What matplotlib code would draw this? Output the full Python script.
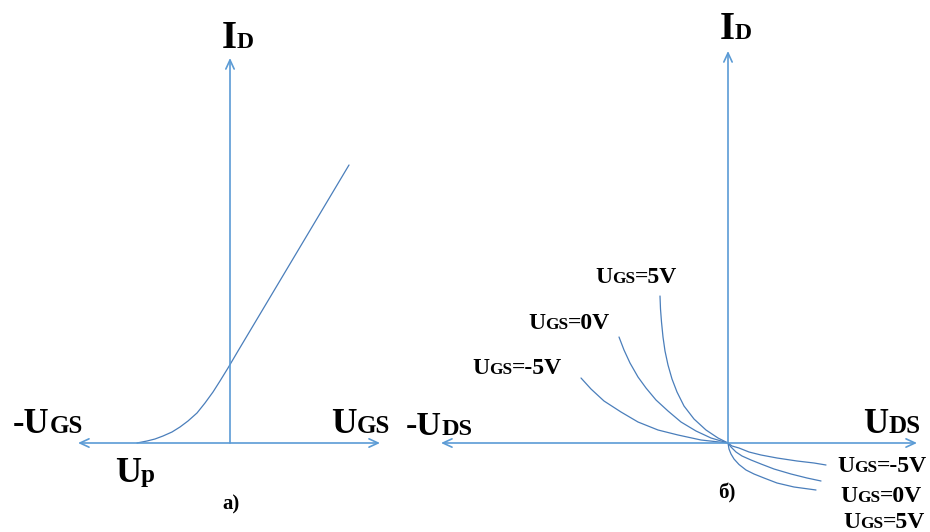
import matplotlib
matplotlib.use("Agg")
import matplotlib.pyplot as plt

# Transfer characteristic I_D(U_GS), points relative to the axis origin
ugs_x = [-93, -83, -75, -67, -58, -50, -42, -33, -25, -17, -10, -2, 8, 119]
ugs_y = [0, 2, 4, 7, 11, 16, 22, 30, 40, 51, 62, 75, 92, 278]

# Output characteristics I_D(U_DS) for three gate voltages
gate_labels = ["5V", "0V", "-5V"]
neg_x = {"5V": [-68, -67.5, -66.5, -65, -63, -60, -56, -51, -44, -34, -22, -10, 0],
         "0V": [-109, -104, -98, -90, -82, -72, -60, -47, -32, -17, 0],
         "-5V": [-147, -137, -124, -107, -90, -70, -50, -27, 0]}
neg_y = {"5V": [147, 134, 121, 106, 92, 78, 64, 51, 37, 24, 13, 5, 0],
         "0V": [106, 93, 80, 66, 55, 43, 32, 21, 12, 5, 0],
         "-5V": [65, 54, 42, 31, 21, 13, 8, 3, 0]}
pos_x = {"5V": [0, 1, 3, 6, 11, 18, 26, 36, 49, 66, 88],
         "0V": [0, 3, 8, 14, 23, 33, 46, 63, 79, 93],
         "-5V": [0, 4, 11, 21, 33, 49, 69, 86, 98]}
pos_y = {"5V": [0, -6, -11, -16, -21.5, -27, -31, -35, -40, -44, -47],
         "0V": [0, -4, -9, -13, -17, -21, -26, -31, -35, -38],
         "-5V": [0, -3, -5, -9, -12, -15, -18, -20, -22]}

AXIS_C = "#5b9bd5"
CURVE_C = "#4a7ebb"
FONT = "Liberation Serif"

fig = plt.figure(figsize=(9.3, 5.32), dpi=100)
ax = fig.add_axes([0, 0, 1, 1])
ax.set_xlim(0, 930)
ax.set_ylim(0, 532)
ax.axis("off")
renderer = fig.canvas.get_renderer()


def arrow(x0, y0, x1, y1, style="->"):
    ax.annotate("", xy=(x1, y1), xytext=(x0, y0),
                arrowprops=dict(arrowstyle=style + ",head_length=0.65,head_width=0.3",
                                color=AXIS_C, lw=1.2, shrinkA=0, shrinkB=0))


def curve(xs, ys, ox, oy):
    ax.plot([ox + v for v in xs], [oy + v for v in ys], color=CURVE_C, lw=0.9,
            solid_joinstyle="round", solid_capstyle="round")


def label(x, y, parts):
    # parts: (text, size) pieces placed one after another on a shared baseline
    inv = ax.transData.inverted()
    for s, size in parts:
        t = ax.text(x, y, s, fontsize=size, fontweight="bold", family=FONT,
                    ha="left", va="baseline", color="black")
        bb = t.get_window_extent(renderer)
        x += inv.transform((bb.x1, bb.y0))[0] - inv.transform((bb.x0, bb.y0))[0]


# left panel: transfer characteristic
ox, oy = 230, 89
arrow(ox - 152, oy, ox + 150, oy, "<->")
arrow(ox, oy, ox, oy + 385)
curve(ugs_x, ugs_y, ox, oy)

label(222, 484, [("I", 28), ("D", 17)])
label(13, 99, [("-U", 25), ("GS", 18)])
label(331, 99, [("U", 25.5), ("GS", 18)])
label(115, 50, [("U", 26), ("p", 18)])
label(222, 23, [("a)", 15)])

# right panel: output characteristics
ox, oy = 728, 89
arrow(ox - 287, oy, ox + 189, oy, "<->")
arrow(ox, oy, ox, oy + 392)
for g in gate_labels:
    curve(neg_x[g], neg_y[g], ox, oy)
    curve(pos_x[g], pos_y[g], ox, oy)

label(720, 493, [("I", 28), ("D", 17)])
label(406, 97, [("-U", 24.5), ("DS", 17.5)])
label(863, 99, [("U", 25), ("DS", 18)])

top_pos = {"5V": (595, 249), "0V": (528, 203), "-5V": (472, 158)}
bottom_pos = {"-5V": (837, 60), "0V": (840, 30), "5V": (843, 4)}
for g in gate_labels:
    for px, py in (top_pos[g], bottom_pos[g]):
        label(px, py, [("U", 17), ("GS", 12.5), ("=" + g, 17)])
label(718, 34, [("б)", 15)])

fig.savefig("out.png", dpi=100)
